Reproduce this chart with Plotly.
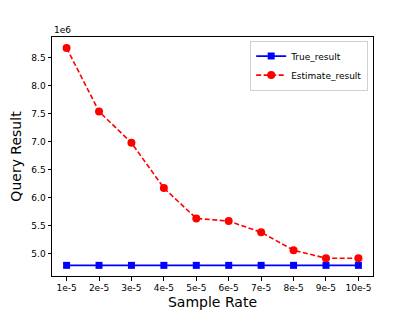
import plotly.graph_objects as go

categories = ["1e-5", "2e-5", "3e-5", "4e-5", "5e-5", "6e-5", "7e-5", "8e-5", "9e-5", "10e-5"]
true_result = [4.79e6] * 10
estimate_result = [8.67e6, 7.535e6, 6.977e6, 6.17e6, 5.628e6, 5.58e6, 5.38e6, 5.06e6, 4.917e6, 4.917e6]
ytick_vals = [5.0e6, 5.5e6, 6.0e6, 6.5e6, 7.0e6, 7.5e6, 8.0e6, 8.5e6]
ytick_text = ["%.1f" % (v / 1e6) for v in ytick_vals]

font = "DejaVu Sans"
xi = list(range(len(categories)))

fig = go.Figure()
fig.add_trace(go.Scatter(
    x=xi, y=true_result, name="True_result", mode="lines+markers",
    line=dict(color="#0000ff", width=1.6),
    marker=dict(symbol="square", size=7, color="#0000ff"),
))
fig.add_trace(go.Scatter(
    x=xi, y=estimate_result, name="Estimate_result", mode="lines+markers",
    line=dict(color="#ff0000", width=1.6, dash="5px,2.5px"),
    marker=dict(symbol="circle", size=8, color="#ff0000"),
))

fig.update_layout(
    width=415, height=311,
    margin=dict(l=52, r=42, t=37, b=35),
    paper_bgcolor="white", plot_bgcolor="white",
    font=dict(family=font, color="black", size=9),
    showlegend=True,
    legend=dict(
        x=0.985, y=0.985, xanchor="right", yanchor="top",
        bordercolor="#d0d0d0", borderwidth=1, bgcolor="rgba(255,255,255,0.8)",
        font=dict(family=font, size=9), tracegroupgap=0, itemwidth=30,
    ),
    annotations=[dict(
        text="1e6", x=0, y=1, xref="paper", yref="paper",
        xanchor="left", yanchor="bottom", showarrow=False,
        font=dict(family=font, size=9), yshift=0,
    )],
)
fig.update_xaxes(
    range=[-0.45, 9.45], tickvals=xi, ticktext=categories, automargin=False,
    showline=True, linecolor="black", linewidth=1, mirror=True,
    ticks="outside", ticklen=3.5, tickcolor="black", showgrid=False, zeroline=False,
    title=dict(text="Sample Rate", font=dict(family=font, size=14), standoff=4),
    tickfont=dict(family=font, size=9),
)
fig.update_yaxes(
    range=[4.60e6, 8.865e6], tickvals=ytick_vals, ticktext=ytick_text, automargin=False,
    showline=True, linecolor="black", linewidth=1, mirror=True,
    ticks="outside", ticklen=3.5, tickcolor="black", showgrid=False, zeroline=False,
    title=dict(text="Query Result", font=dict(family=font, size=14), standoff=6),
    tickfont=dict(family=font, size=9),
)

fig.write_html(
    "out.html",
    config={"displayModeBar": False},
    post_script="document.body.style.margin='0';document.body.style.overflow='hidden';",
)
